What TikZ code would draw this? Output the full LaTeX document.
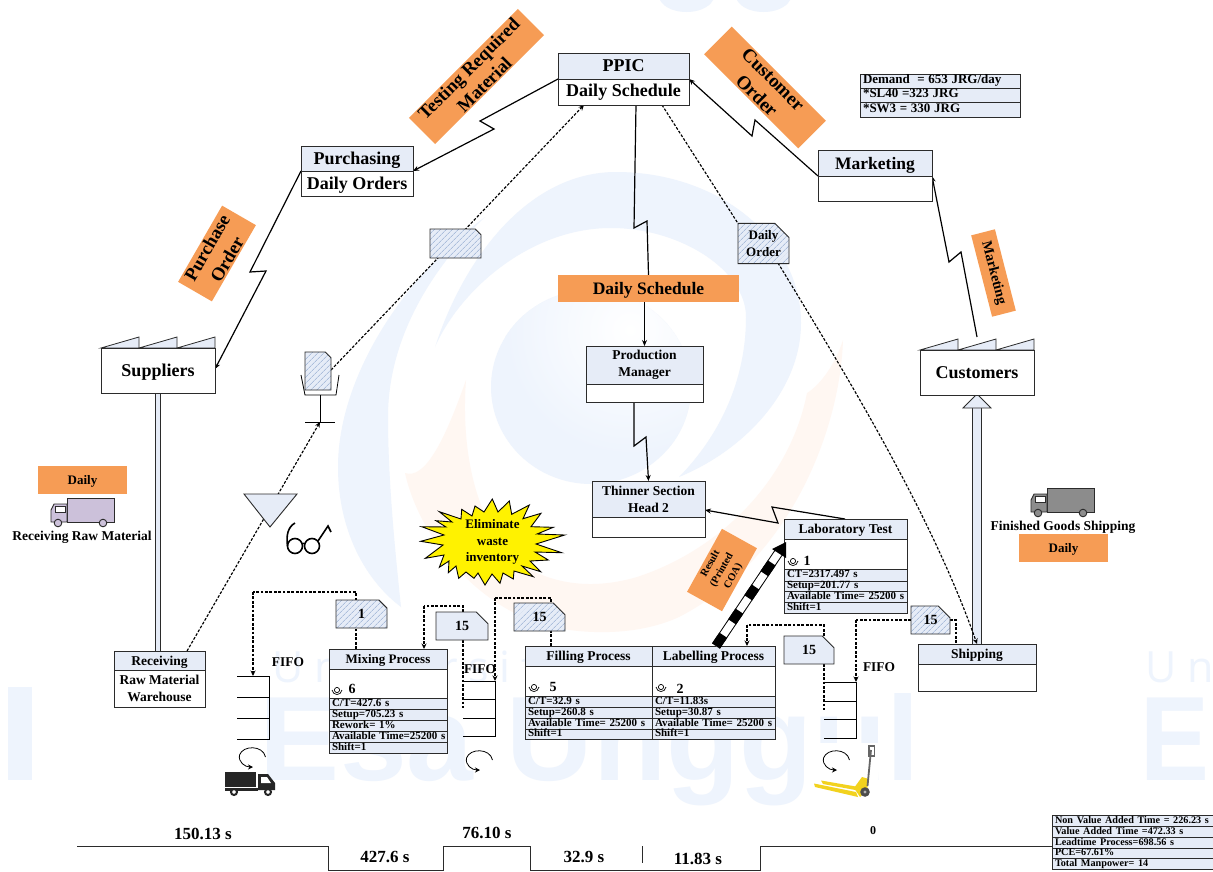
\documentclass[tikz,border=0pt]{standalone}
\usepackage{fontspec}
\setmainfont{Liberation Serif}
\newfontfamily\wmsans{Liberation Sans}
\newfontfamily\wmthin[LetterSpace=25]{Open Sans}
\usetikzlibrary{arrows.meta,shapes.misc,patterns.meta,calc}
\definecolor{boxblue}{HTML}{E6ECF7}
\definecolor{hatchc}{HTML}{8CA5CC}
\definecolor{tagor}{HTML}{F69C55}
\definecolor{wmblue}{HTML}{EEF4FD}
\definecolor{wmor}{HTML}{FFF7F2}
\definecolor{edge}{HTML}{2B2B2B}
\definecolor{trkpurple}{HTML}{CCC1DA}
\definecolor{trkgray}{HTML}{8C8C8C}
\definecolor{jackyel}{HTML}{F2D21E}
\newcommand\fs[1]{\fontsize{#1}{#1}\bfseries\selectfont}
\newcommand\fsl[2]{\fontsize{#1}{#2}\bfseries\selectfont}
\pgfdeclarelayer{wm}\pgfdeclarelayer{conn}
\pgfsetlayers{wm,conn,main}
\tikzset{
 hdr/.style={draw=edge,line width=.9pt,fill=boxblue,inner sep=0pt,outer sep=0pt,align=center,anchor=north west},
 plainb/.style={draw=edge,line width=.9pt,fill=white,inner sep=0pt,outer sep=0pt,align=center,anchor=north west},
 rowc/.style={draw=edge,line width=.8pt,fill=boxblue,inner xsep=3pt,inner ysep=0pt,outer sep=0pt,align=left,anchor=north west,font=\fs{11},text height=7.5pt,text depth=2pt},
 tag/.style={fill=tagor,inner sep=0pt,outer sep=0pt,align=center},
 lbl/.style={inner sep=0pt,outer sep=0pt,align=center},
 low/.style={text depth=0pt},
 docplain/.style={chamfered rectangle,chamfered rectangle corners=north east,chamfered rectangle xsep=7pt,chamfered rectangle ysep=7pt,draw=edge,line width=.9pt,fill=boxblue,inner sep=0pt,outer sep=0pt,align=center,anchor=center},
 dochatch/.style={docplain,fill=none,preaction={fill=boxblue},pattern={Lines[angle=45,distance=4pt,line width=.55pt]},pattern color=hatchc},
 bolt/.style={draw=black,line width=1.2pt,-{Stealth[length=6pt,width=5pt]}},
 boltn/.style={draw=black,line width=1.2pt},
 dashln/.style={draw=black,line width=1.15pt,dash pattern=on 2.8pt off 1.6pt},
 dasharr/.style={dashln,-{Stealth[length=5.5pt,width=5pt]}},
 invline/.style={draw=black,line width=1pt},
 rotarr/.style={draw=black,line width=.8pt,-{Stealth[length=5pt,width=5pt]}},
}
\newcommand\boxn[7][hdr]{\pgfmathsetmacro\bw{#5-#3}\pgfmathsetmacro\bh{#6-#4}%
 \node[#1,minimum width=\bw pt,minimum height=\bh pt] (#2) at (#3,#4) {#7};}
\newcommand\rown[6]{\pgfmathsetmacro\bw{#4-#2}\pgfmathsetmacro\bh{#5-#3}\pgfmathsetmacro\tw{\bw-6}%
 \node[rowc,minimum width=\bw pt,minimum height=\bh pt,text width=\tw pt] (#1) at (#2,#3) {\mbox{#6}};}
\newcommand\docn[7][docplain]{\pgfmathsetmacro\bw{#5-#3}\pgfmathsetmacro\bh{#6-#4}%
 \pgfmathsetmacro\cx{(#3+#5)/2}\pgfmathsetmacro\cy{(#4+#6)/2}%
 \node[#1,minimum width=\bw pt,minimum height=\bh pt] (#2) at (\cx,\cy) {#7};}
\newcommand\roofn[2]{\draw[fill=boxblue,draw=edge,line width=.8pt] (#1,#2) -- ++(38,-11) -- ++(0,11) -- ++(38,-11) -- ++(0,11) -- ++(38,-11) -- ++(0,11) -- cycle;}
\newcommand\opr[2]{\begin{scope}[shift={(#1,#2)}]
 \draw[draw=black,line width=.7pt] (0,-1) circle[radius=2.6pt];
 \draw[draw=black,line width=.7pt] (-5,-1) .. controls (-4,5) and (4,5) .. (5,-1);
 \end{scope}}
\newcommand\rotn[2]{\begin{scope}[shift={(#1,#2)}]
 \draw[rotarr] (26.5,9) .. controls (24,-3) and (4,-3) .. (.5,7) .. controls (-1,14) and (6,19) .. (14,19);
 \end{scope}}
\newcommand\truck[3]{\begin{scope}[shift={(#1,#2)}]
 \draw[fill=#3,draw=edge,line width=.9pt] (16,0) rectangle (63,24);
 \draw[fill=#3,draw=edge,line width=.9pt] (16,6) -- (3,6) -- (0,12) -- (0,24) -- (16,24) -- cycle;
 \draw[fill=white,draw=edge,line width=.9pt] (4,8) rectangle (14,14);
 \draw[fill=#3,draw=edge,line width=.9pt] (7,25) circle[radius=3.8pt];
 \draw[fill=#3,draw=edge,line width=.9pt] (52,25) circle[radius=3.8pt];
 \end{scope}}
\begin{document}
\begin{tikzpicture}[x=1pt,y=-1pt]
\useasboundingbox (0,0) rectangle (1213,871);

%%% watermark
\begin{pgfonlayer}{wm}
\fill[white] (0,0) rectangle (1213,871);
\fill[wmblue] (660,0) .. controls (668,16) and (705,16) .. (713,0) -- cycle;
\fill[wmblue] (737,0) .. controls (745,16) and (782,16) .. (790,0) -- cycle;
% right and top arch
\fill[wmblue] (435,347) .. controls (465,255) and (530,172) .. (616,172)
  .. controls (720,172) and (801,240) .. (801,323)
  .. controls (801,390) and (745,450) .. (679,477)
  .. controls (720,435) and (746,380) .. (746,317)
  .. controls (746,270) and (680,228) .. (611,228)
  .. controls (530,228) and (460,290) .. (435,347) -- cycle;
% left sweep
\fill[wmblue] (485,217) .. controls (400,280) and (338,380) .. (338,467)
  .. controls (338,530) and (365,580) .. (401,607)
  .. controls (395,550) and (388,480) .. (388,417)
  .. controls (388,340) and (430,270) .. (485,217) -- cycle;
% inner blob
\begin{scope}
\clip (591,387) ellipse[x radius=100pt,y radius=97pt];
\fill[wmblue] (480,280) rectangle (700,490);
\shade[inner color=white,outer color=wmblue] (630,330) circle[radius=125pt];
\end{scope}
% orange crescent
\fill[wmor] (843,340) .. controls (840,430) and (790,560) .. (679,617)
  .. controls (640,635) and (590,635) .. (552,627)
  .. controls (480,610) and (420,540) .. (405,473)
  .. controls (425,480) and (445,440) .. (466,380)
  .. controls (460,460) and (480,540) .. (531,570)
  .. controls (570,590) and (610,585) .. (637,577)
  .. controls (720,550) and (790,480) .. (807,393)
  .. controls (820,385) and (835,365) .. (843,340) -- cycle;
\node[inner sep=0pt,anchor=base,text=wmblue,font={\fontsize{120}{120}\bfseries\wmsans}] (wmEsa) at (590,780) {Esa Unggul};
\node[inner sep=0pt,anchor=base west,text=wmblue,transform shape,xscale=.86,font={\fontsize{120}{120}\bfseries\wmsans}] (wmE) at (1140,780) {E};
\fill[wmblue] (8,687) rectangle (32,780);
\node[inner sep=0pt,anchor=base west,text=wmblue,font={\fontsize{43}{43}\wmthin}] (wmUniv) at (272,682) {Universitas};
\node[inner sep=0pt,anchor=base west,text=wmblue,font={\fontsize{43}{43}\wmthin}] (wmUn) at (1145,682) {Un\hspace{-12pt}};
\end{pgfonlayer}

%%% orange tags
\node[tag,minimum width=154pt,minimum height=37pt,rotate=45,font=\fsl{18.5}{22}] (tagTest) at (476.5,76.5) {Testing Required\\Material};
\node[tag,minimum width=133pt,minimum height=39pt,rotate=-45,font=\fsl{19}{23}] (tagCust) at (765,87.5) {Customer\\Order};
\node[tag,minimum width=88pt,minimum height=39pt,rotate=60,font=\fsl{18.5}{23}] (tagPurch) at (217,253.5) {Purchase\\Order};
\node[tag,minimum width=84pt,minimum height=24.5pt,rotate=-75.6,font=\fs{14.3}] (tagMkt) at (993.5,273) {Marketing};
\boxn[tag,low,anchor=north west,font=\fs{17.5}]{tagDS}{558}{275}{739}{302}{Daily Schedule}
\node[tag,minimum width=72pt,minimum height=40pt,rotate=61,font=\fsl{10.5}{13}] (tagCOA) at (722,570) {Result\\(Printed\\COA)};
\boxn[tag,low,anchor=north west,font=\fs{13}]{tagD1}{38}{466}{127}{494}{Daily}
\boxn[tag,low,anchor=north west,font=\fs{13}]{tagD2}{1019}{534}{1108}{562}{Daily}

%%% main boxes
\boxn[hdr,font=\fs{18}]{ppicH}{558}{53}{689}{79}{PPIC}
\boxn[plainb,font=\fs{18}]{ppicB}{558}{79}{689}{105}{Daily Schedule}
\boxn[hdr,low,font=\fs{18}]{purchH}{301}{146}{413}{171}{Purchasing}
\boxn[plainb,low,font=\fs{18}]{purchB}{301}{171}{413}{196}{Daily Orders}
\boxn[hdr,low,font=\fs{17.5}]{mktH}{818}{150}{932}{176}{Marketing}
\boxn[plainb]{mktB}{818}{176}{932}{201}{}
\roofn{101}{348}
\boxn[plainb,low,font=\fs{18}]{suppliers}{101}{348}{215}{393}{Suppliers}
\roofn{920}{350}
\boxn[plainb,font=\fs{18}]{customers}{920}{350}{1034}{395}{Customers}
\boxn[hdr,font=\fsl{13.5}{17}]{prodH}{586}{346}{703}{384}{Production\\Manager}
\boxn[plainb]{prodB}{586}{384}{703}{402}{}
\boxn[hdr,font=\fsl{13.5}{17}]{thinH}{592}{481}{705}{517}{Thinner Section\\Head 2}
\boxn[plainb]{thinB}{592}{517}{705}{537}{}
\boxn[hdr,low,font=\fs{13.5}]{shipH}{918}{644}{1036}{664}{Shipping}
\boxn[plainb]{shipB}{918}{664}{1036}{691}{}
\boxn[hdr,low,font=\fs{13.5}]{recvH}{114}{651}{205}{670}{Receiving}
\boxn[plainb,font=\fsl{13.5}{16.5}]{recvB}{114}{670}{205}{707}{Raw Material\\Warehouse}

%%% demand table
\rown{dem1}{860}{74}{1020}{88}{\fs{13}Demand\ \ = 653 JRG/day}
\rown{dem2}{860}{88}{1020}{102}{\fs{13}*SL40 =323 JRG}
\rown{dem3}{860}{102}{1020}{117}{\fs{13}*SW3 = 330 JRG}

%%% lab
\boxn[hdr,low,font=\fs{13.5}]{labH}{784}{519}{907}{539}{Laboratory Test}
\boxn[plainb]{labB}{784}{539}{907}{569}{}
\rown{labR1}{784}{569}{907}{581}{CT=2317.497 s}
\rown{labR2}{784}{581}{907}{591}{Setup=201.77 s}
\rown{labR3}{784}{591}{907}{602}{Available Time= 25200 s}
\rown{labR4}{784}{602}{907}{613}{Shift=1}
\opr{793}{562}
\node[lbl,font=\fs{14}] (labN) at (807,561) {1};

%%% mixing
\boxn[hdr,low,font=\fs{13}]{mixH}{329}{649}{447}{669}{Mixing Process}
\boxn[plainb]{mixB}{329}{669}{447}{698}{}
\rown{mixR1}{329}{698}{447}{709}{C/T=427.6 s}
\rown{mixR2}{329}{709}{447}{720}{Setup=705.23 s}
\rown{mixR3}{329}{720}{447}{731}{Rework= 1\%}
\rown{mixR4}{329}{731}{447}{742}{Available Time=25200 s}
\rown{mixR5}{329}{742}{447}{753}{Shift=1}
\opr{337}{691}
\node[lbl,font=\fs{14}] (mixN) at (352,689) {6};

%%% filling
\boxn[hdr,low,font=\fs{13.5}]{fillH}{525}{646}{652}{666}{Filling Process}
\boxn[plainb]{fillB}{525}{666}{652}{696}{}
\rown{fillR1}{525}{696}{652}{707}{C/T=32.9 s}
\rown{fillR2}{525}{707}{652}{718}{Setup=260.8 s}
\rown{fillR3}{525}{718}{652}{729}{Available Time= 25200 s}
\rown{fillR4}{525}{729}{652}{739}{Shift=1}
\opr{534}{688}
\node[lbl,font=\fs{14}] (fillN) at (553,687) {5};

%%% labelling
\boxn[hdr,low,font=\fs{13.5}]{labelH}{652}{646}{775}{666}{Labelling Process}
\boxn[plainb]{labelB}{652}{666}{775}{696}{}
\rown{labelR1}{652}{696}{775}{707}{C/T=11.83s}
\rown{labelR2}{652}{707}{775}{718}{Setup=30.87 s}
\rown{labelR3}{652}{718}{775}{729}{Available Time= 25200 s}
\rown{labelR4}{652}{729}{775}{739}{Shift=1}
\opr{661}{688}
\node[lbl,font=\fs{14}] (labelN) at (680,689) {2};

%%% summary
\rown{sum1}{1052}{815}{1217}{826}{\fs{10.2}Non Value Added Time = 226.23 s}
\rown{sum2}{1052}{826}{1217}{837}{\fs{10.2}Value Added Time =472.33 s}
\rown{sum3}{1052}{837}{1217}{848}{\fs{10.2}Leadtime Process=698.56 s}
\rown{sum4}{1052}{848}{1217}{858}{\fs{10.2}PCE=67.61\%}
\rown{sum5}{1052}{858}{1217}{869}{\fs{10.2}Total Manpower= 14}

%%% documents
\docn[dochatch]{docA}{430}{229}{481}{258}{\phantom{1}}
\docn[dochatch,font=\fsl{13}{17}]{docOrder}{738}{224}{789}{263}{Daily\\Order}
\docn[dochatch]{docPost}{305}{352}{331}{390}{\phantom{1}}
\docn[dochatch,font=\fs{14}]{doc1}{336}{600}{387}{628}{1}
\docn[docplain,font=\fs{14}]{doc15a}{436}{612}{488}{640}{15}
\docn[dochatch,font=\fs{14}]{doc15b}{514}{603}{565}{631}{15}
\docn[docplain,font=\fs{14}]{doc15c}{784}{636}{834}{664}{15}
\docn[dochatch,font=\fs{14}]{doc15d}{911}{606}{950}{634}{15}

%%% post of the withdrawal
\draw[draw=black,line width=.8pt] (301,375) -- (305,395) -- (336,395) -- (339,375);
\draw[draw=black,line width=.8pt] (320,395) -- (320,422);
\draw[draw=black,line width=.8pt] (305,422) -- (335,422);

%%% triangle, glasses
\draw[fill=boxblue,draw=edge,line width=.9pt] (244,494) -- (297,494) -- (270,527) -- cycle;
\draw[draw=black,line width=1.6pt] (295,546) circle[radius=7.5pt];
\draw[draw=black,line width=1.6pt] (312,546) circle[radius=7.5pt];
\draw[draw=black,line width=1.6pt] (287.5,546) .. controls (286,535) and (288,527) .. (295,523);
\draw[draw=black,line width=1.6pt] (318,541) -- (328,526) -- (331,532);
\draw[draw=black,line width=1.1pt] (302.5,544) .. controls (303.5,543) and (304,543) .. (304.5,544);

%%% trucks
\truck{51}{498}{trkpurple}
\truck{1031}{488}{trkgray}
\fill[black!85] (225,772) rectangle (256,787);
\fill[black!85] (258,774) -- (268,774) -- (275,783) -- (275,790) -- (258,790) -- cycle;
\fill[white] (261,777) -- (267,777) -- (271,783) -- (261,783) -- cycle;
\fill[black!85] (225,788) rectangle (258,791);
\draw[fill=white,draw=black!85,line width=2pt] (234,792) circle[radius=3pt];
\draw[fill=white,draw=black!85,line width=2pt] (268,792) circle[radius=3pt];
\node[lbl,font=\fs{13.5}] (lblRaw) at (82,537) {Receiving Raw Material};
\node[lbl,font=\fs{13.5}] (lblFG) at (1063,527) {Finished Goods Shipping};

%%% pallet jack
\fill[white] (812,743) rectangle (878,797);
\fill[jackyel] (814,783.5) -- (856,792) -- (858,797) -- (815,787) -- cycle;
\fill[jackyel] (821,780.5) -- (856,786.5) -- (858,790.5) -- (823,784) -- cycle;
\fill[jackyel] (854,788) -- (862,777) -- (869,779) -- (867,790) -- (860,797) -- cycle;
\draw[draw=black!60,line width=1.8pt] (867.5,786) -- (871,750);
\draw[draw=black!60,line width=1.2pt] (869,746) rectangle (874.5,756);
\fill[black!70] (865,792) circle[radius=4.8pt];
\fill[black!30] (865,792) circle[radius=1.6pt];

%%% star
\draw[fill=yellow,draw=black,line width=.9pt] (492.3,499) -- (498,512) -- (509.3,501) -- (511.7,514.3) -- (529.3,505) -- (523,518.7) -- (541,513.3) -- (531,526.7) -- (553.3,527.3) -- (537,534) -- (564.7,535) -- (536,544) -- (561.7,552.7) -- (535,552) -- (548.3,560) -- (530,561) -- (540.7,571.7) -- (522,566) -- (533.3,576.7) -- (514,571) -- (513.3,579) -- (503,573) -- (500,583.3) -- (492,574) -- (485,585) -- (478,573) -- (474,578.3) -- (466,572) -- (458.7,578.3) -- (456,566) -- (448.3,572.7) -- (449,561) -- (439.3,567.3) -- (444,555) -- (425.3,558.3) -- (443,545) -- (420.7,541.3) -- (444,535) -- (421.7,526.7) -- (446,527) -- (436,520.7) -- (452,522) -- (439.3,511.7) -- (461,519) -- (461.7,509.3) -- (472,516) -- (475,506) -- (484,512) -- cycle;
\node[lbl,font=\fsl{13}{16.5}] (starT) at (492.5,542) {Eliminate\\waste\\inventory};

%%% inventory
\draw[invline] (237,676) -- (269,676) -- (269,739) -- (237,739);
\draw[invline] (237,697) -- (269,697);
\draw[invline] (237,718) -- (269,718);
\draw[invline] (463,681) -- (495,681) -- (495,736) -- (463,736);
\draw[invline] (463,699) -- (495,699);
\draw[invline] (463,718) -- (495,718);
\draw[invline] (824,682) -- (856,682) -- (856,738) -- (824,738);
\draw[invline] (824,701) -- (856,701);
\draw[invline] (824,719) -- (856,719);
\node[lbl,font=\fs{13.4}] (fifoA) at (288,662) {FIFO};
\node[lbl,font=\fs{13.4}] (fifoB) at (480,669) {FIFO};
\node[lbl,font=\fs{13.4}] (fifoC) at (879,667) {FIFO};
\rotn{239}{748}
\rotn{466}{751}
\rotn{823}{751}

%%% timeline
\coordinate (tlStart) at (77,846);
\coordinate (tlEnd) at (tlStart -| sum3.west);
\draw[draw=edge,line width=.9pt] (tlStart) -- (328,846) -- (328,870) -- (443,870) -- (443,846) -- (530,846) -- (530,870) -- (760,870) -- (760,846) -- (tlEnd);
\draw[draw=edge,line width=.7pt] (642,846) -- (642,863);
\node[lbl,font=\fs{17}] (t1) at (203,834) {150.13 s};
\node[lbl,font=\fs{17}] (t2) at (385,857) {427.6 s};
\node[lbl,font=\fs{17}] (t3) at (487,833) {76.10 s};
\node[lbl,font=\fs{17}] (t4) at (584,857) {32.9 s};
\node[lbl,font=\fs{17}] (t5) at (698,859) {11.83 s};
\node[lbl,font=\fs{12}] (t6) at (873,831) {0};

%%% connectors
\begin{pgfonlayer}{conn}
\coordinate (ppicOut) at (636,105);
\coordinate (ppicDash) at (662,105);
\coordinate (ppicIn) at (584,105);
\coordinate (custOut) at (977,337);
\coordinate (labOut) at (845,519);
\coordinate (thinIn) at (705,510);
\coordinate (prodOut) at (634,402);
\coordinate (recvOut) at (187,651);
\coordinate (postBase) at (320,422);
\coordinate (postDoc) at (331,370);
\coordinate (suppIn) at (215,369);
\draw[bolt] (ppicH.south west) -- (480,121) -- (494,129) -- (purchH.south east);
\draw[bolt] (purchH.south west) -- (250,272) -- (266,271) -- (suppIn);
\draw[boltn] (ppicOut) -- (634,228) -- (647,221) -- (tagDS.north);
\draw[bolt] (tagDS.south -| prodH.north) -- (prodH.north);
\draw[bolt] (prodOut) -- (634,446) -- (646,437) -- (thinH.north);
\draw[bolt] (labOut) -- (772,507) -- (778,523) -- (thinIn);
\draw[bolt] (mktH.south west) -- (755,120) -- (752,136) -- (ppicH.south east);
\draw[bolt] (custOut) -- (961,252) -- (949,262) -- (mktH.south east);

\draw[dashln] (ppicDash) -- (docOrder.north west);
\draw[dasharr] (postDoc) -- (ppicIn);
\draw[dasharr] (recvOut) -- (postBase);

% push arrow and raw material line
\draw[draw=edge,line width=9.5pt] (shipH.north) -- (customers.south |- 0,405);
\draw[draw=boxblue,line width=7.5pt] (shipH.north) -- (customers.south |- 0,405);
\fill[fill=boxblue,draw=edge,line width=.8pt] (963,408) -- (977,394) -- (991,408) -- cycle;
\draw[draw=edge,line width=6pt] (suppliers.south) -- (suppliers.south |- recvH.north);
\draw[draw=boxblue,line width=4pt] (suppliers.south) -- (suppliers.south |- recvH.north);

% daily order curve
\coordinate (orderOut) at (778,263);
\coordinate (shipIn) at (977,644);
\draw[dasharr] (orderOut) .. controls (840,365) and (930,510) .. (shipIn);

% kanban loops
\coordinate (mixTop) at (356,649);
\coordinate (fifoAIn) at (253,676);
\draw[dashln] (mixTop) -- (356,592) -- (253,592);
\draw[dasharr] (253,592) -- (fifoAIn);
\coordinate (mixIn) at (424,649);
\coordinate (a15top) at (463,612);
\draw[dashln] (a15top) -- (463,606) -- (424,606);
\draw[dasharr] (424,606) -- (mixIn);
\coordinate (a15bot) at (463,640);
\draw[dashln] (a15bot) -- (463,708);
\coordinate (fillTop) at (551,646);
\coordinate (fifoBIn) at (495,681);
\draw[dashln] (fillTop) -- (551,598) -- (495,598);
\draw[dasharr] (495,598) -- (fifoBIn);
\coordinate (labelIn) at (747,646);
\coordinate (c15top) at (824,636);
\draw[dashln] (c15top) -- (824,625) -- (747,625);
\draw[dasharr] (747,625) -- (labelIn);
\coordinate (c15bot) at (824,664);
\draw[dashln] (c15bot) -- (824,710);
\coordinate (fifoCIn) at (856,682);
\draw[dashln] (doc15d.west) -- (856,620);
\draw[dasharr] (856,620) -- (fifoCIn);
\coordinate (shipTop) at (956,644);
\draw[dashln] (doc15d.east) -- (956,620) -- (shipTop);
\end{pgfonlayer}

%%% striped signal arrow
\coordinate (sigA) at (716,646);
\coordinate (sigB) at (779,552);
\draw[draw=black,line width=9.5pt] (sigA) -- (sigB);
\draw[draw=white,line width=7.5pt] (sigA) -- (sigB);
\draw[draw=black,line width=9.5pt,dash pattern=on 13pt off 16pt] (sigA) -- (sigB);
\fill[black] (786,542) -- (772,549) -- (786,558) -- cycle;
\end{tikzpicture}
\end{document}
